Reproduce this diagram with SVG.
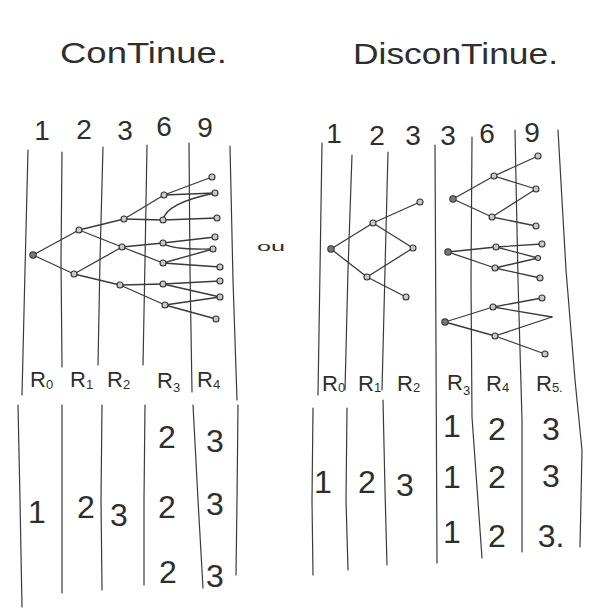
<svg xmlns="http://www.w3.org/2000/svg" width="589" height="615" viewBox="0 0 589 615">
<style>
.ln{fill:none;stroke:#3a3a3a;stroke-width:1.2;stroke-linecap:round;stroke-linejoin:round}
.e{fill:none;stroke:#3a3a3a;stroke-width:1.3;stroke-linecap:round}
.n{fill:#c8c8c8;stroke:#333;stroke-width:1.1}
.r{fill:#777;stroke:#333;stroke-width:1.1}
text{font-family:"Liberation Sans","DejaVu Sans",sans-serif;fill:#2e2e2e}
.t{font-size:30px}
.num{font-size:28px;text-anchor:middle}
.lab{font-size:22px}
.sub{font-size:13px}
.big{font-size:32px;text-anchor:middle}
</style>
<rect width="589" height="615" fill="#fff"/>
<!-- titles -->
<text class="t" x="60" y="63" textLength="167" lengthAdjust="spacingAndGlyphs">ConTinue.</text>
<text class="t" x="353" y="64" textLength="205" lengthAdjust="spacingAndGlyphs">DisconTinue.</text>
<!-- top numbers -->
<g>
<text class="num" x="42" y="140">1</text>
<text class="num" x="84" y="139">2</text>
<text class="num" x="125" y="140">3</text>
<text class="num" x="164" y="136">6</text>
<text class="num" x="205" y="137">9</text>
<text class="num" x="334" y="143">1</text>
<text class="num" x="377" y="145">2</text>
<text class="num" x="413" y="145">3</text>
<text class="num" x="448" y="145">3</text>
<text class="num" x="487" y="143">6</text>
<text class="num" x="532" y="142">9</text>
</g>
<!-- column lines -->
<g id="columns">
<polyline class="ln" points="28,150 25,270 22,395"/>
<polyline class="ln" points="62,152 61,260 62,367"/>
<polyline class="ln" points="103,147 100,260 98,365"/>
<polyline class="ln" points="147,145 145,260 143,365"/>
<polyline class="ln" points="189,143 190,270 192,392"/>
<polyline class="ln" points="230,146 233,280 237,400"/>
<polyline class="ln" points="18,405 20,500 22,607"/>
<polyline class="ln" points="62,405 62,593"/>
<polyline class="ln" points="102,405 101,500 102,590"/>
<polyline class="ln" points="145,405 144,500 144,585"/>
<polyline class="ln" points="193,405 198,500 203,588"/>
<polyline class="ln" points="238,405 237,500 236,575"/>
<polyline class="ln" points="322,143 320,270 318,395"/>
<polyline class="ln" points="352,155 348,270 345,390"/>
<polyline class="ln" points="388,152 385,270 382,390"/>
<polyline class="ln" points="435,145 436,350 437,563"/>
<polyline class="ln" points="472,137 471,280 472,417 482,558"/>
<polyline class="ln" points="515,130 518,280 522,420 522,552"/>
<polyline class="ln" points="558,130 566,270 575,380 582,450 580,547"/>
<polyline class="ln" points="313,408 312,500 313,575"/>
<polyline class="ln" points="347,408 346,500 348,570"/>
<polyline class="ln" points="383,400 385,490 387,565"/>
</g>
<text x="257" y="251" style="font-size:13px" textLength="28" lengthAdjust="spacingAndGlyphs">ou</text>
<!-- connectors -->
<g id="connectors">
<line class="e" x1="33" y1="255" x2="79" y2="230"/>
<line class="e" x1="33" y1="255" x2="74" y2="274"/>
<line class="e" x1="79" y1="230" x2="124" y2="219"/>
<line class="e" x1="79" y1="230" x2="122" y2="247"/>
<line class="e" x1="74" y1="274" x2="122" y2="247"/>
<line class="e" x1="74" y1="274" x2="120" y2="285"/>
<line class="e" x1="124" y1="219" x2="164" y2="195"/>
<line class="e" x1="124" y1="219" x2="163" y2="220"/>
<line class="e" x1="122" y1="247" x2="163" y2="243"/>
<line class="e" x1="122" y1="247" x2="163" y2="263"/>
<line class="e" x1="120" y1="285" x2="163" y2="284"/>
<line class="e" x1="120" y1="285" x2="165" y2="305"/>
<line class="e" x1="164" y1="195" x2="212" y2="177"/>
<line class="e" x1="164" y1="195" x2="215" y2="193"/>
<path class="e" d="M163,220 Q166,203 215,193"/>
<line class="e" x1="163" y1="220" x2="217" y2="218"/>
<line class="e" x1="163" y1="243" x2="215" y2="237"/>
<path class="e" d="M163,243 Q170,250 213,249"/>
<line class="e" x1="163" y1="263" x2="213" y2="249"/>
<line class="e" x1="163" y1="263" x2="220" y2="267"/>
<line class="e" x1="163" y1="284" x2="220" y2="281"/>
<line class="e" x1="163" y1="284" x2="220" y2="297"/>
<line class="e" x1="165" y1="305" x2="220" y2="297"/>
<line class="e" x1="165" y1="305" x2="216" y2="319"/>
<line class="e" x1="331" y1="249" x2="373" y2="223"/>
<line class="e" x1="331" y1="249" x2="367" y2="277"/>
<line class="e" x1="373" y1="223" x2="420" y2="202"/>
<line class="e" x1="373" y1="223" x2="413" y2="248"/>
<line class="e" x1="367" y1="277" x2="413" y2="248"/>
<line class="e" x1="367" y1="277" x2="406" y2="297"/>
<line class="e" x1="453" y1="199" x2="494" y2="176"/>
<line class="e" x1="453" y1="199" x2="492" y2="217"/>
<line class="e" x1="494" y1="176" x2="538" y2="156"/>
<line class="e" x1="494" y1="176" x2="536" y2="189"/>
<line class="e" x1="492" y1="217" x2="536" y2="189"/>
<line class="e" x1="492" y1="217" x2="536" y2="226"/>
<line class="e" x1="448" y1="252" x2="496" y2="247"/>
<line class="e" x1="448" y1="252" x2="495" y2="268"/>
<line class="e" x1="496" y1="247" x2="542" y2="244"/>
<line class="e" x1="496" y1="247" x2="538" y2="258"/>
<line class="e" x1="495" y1="268" x2="538" y2="258"/>
<line class="e" x1="495" y1="268" x2="540" y2="278"/>
<line class="e" x1="445" y1="322" x2="493" y2="307"/>
<line class="e" x1="445" y1="322" x2="495" y2="336"/>
<line class="e" x1="493" y1="307" x2="542" y2="298"/>
<line class="e" x1="493" y1="307" x2="552" y2="317"/>
<line class="e" x1="495" y1="336" x2="552" y2="317"/>
<line class="e" x1="495" y1="336" x2="545" y2="354"/>
</g>
<!-- nodes continue -->
<g id="tree-continue">
<g id="c0"><circle class="r" cx="33" cy="255" r="3.2"/></g>
<g id="c1a"><circle class="n" cx="79" cy="230" r="3"/></g>
<g id="c1b"><circle class="n" cx="74" cy="274" r="3"/></g>
<g id="c2a"><circle class="n" cx="124" cy="219" r="3"/></g>
<g id="c2b"><circle class="n" cx="122" cy="247" r="3"/></g>
<g id="c2c"><circle class="n" cx="120" cy="285" r="3"/></g>
<g id="c3a"><circle class="n" cx="164" cy="195" r="3"/></g>
<g id="c3b"><circle class="n" cx="163" cy="220" r="3"/></g>
<g id="c3c"><circle class="n" cx="163" cy="243" r="3"/></g>
<g id="c3d"><circle class="n" cx="163" cy="263" r="3"/></g>
<g id="c3e"><circle class="n" cx="163" cy="284" r="3"/></g>
<g id="c3f"><circle class="n" cx="165" cy="305" r="3"/></g>
<g id="c4a"><circle class="n" cx="212" cy="177" r="3"/></g>
<g id="c4b"><circle class="n" cx="215" cy="193" r="3"/></g>
<g id="c4c"><circle class="n" cx="217" cy="218" r="3"/></g>
<g id="c4d"><circle class="n" cx="215" cy="237" r="3"/></g>
<g id="c4e"><circle class="n" cx="213" cy="249" r="3"/></g>
<g id="c4f"><circle class="n" cx="220" cy="267" r="3"/></g>
<g id="c4g"><circle class="n" cx="220" cy="281" r="3"/></g>
<g id="c4h"><circle class="n" cx="220" cy="297" r="3"/></g>
<g id="c4i"><circle class="n" cx="216" cy="319" r="3"/></g>
</g>
<!-- nodes discontinue -->
<g id="tree-discontinue">
<g id="d0"><circle class="r" cx="331" cy="249" r="3.2"/></g>
<g id="d1a"><circle class="n" cx="373" cy="223" r="3"/></g>
<g id="d1b"><circle class="n" cx="367" cy="277" r="3"/></g>
<g id="d2a"><circle class="n" cx="420" cy="202" r="3"/></g>
<g id="d2b"><circle class="n" cx="413" cy="248" r="3"/></g>
<g id="d2c"><circle class="n" cx="406" cy="297" r="3"/></g>
<g id="s1r"><circle class="r" cx="453" cy="199" r="3.2"/></g>
<g id="s1a"><circle class="n" cx="494" cy="176" r="3"/></g>
<g id="s1b"><circle class="n" cx="492" cy="217" r="3"/></g>
<g id="s1g1"><circle class="n" cx="538" cy="156" r="3"/></g>
<g id="s1g2"><circle class="n" cx="536" cy="189" r="3"/></g>
<g id="s1g3"><circle class="n" cx="536" cy="226" r="3"/></g>
<g id="s2r"><circle class="r" cx="448" cy="252" r="3.2"/></g>
<g id="s2a"><circle class="n" cx="496" cy="247" r="3"/></g>
<g id="s2b"><circle class="n" cx="495" cy="268" r="3"/></g>
<g id="s2g1"><circle class="n" cx="542" cy="244" r="3"/></g>
<g id="s2g2"><circle class="n" cx="538" cy="258" r="2.5"/></g>
<g id="s2g3"><circle class="n" cx="540" cy="278" r="3"/></g>
<g id="s3r"><circle class="r" cx="445" cy="322" r="3.2"/></g>
<g id="s3a"><circle class="n" cx="493" cy="307" r="3"/></g>
<g id="s3b"><circle class="n" cx="495" cy="336" r="3"/></g>
<g id="s3g1"><circle class="n" cx="542" cy="298" r="3"/></g>
<g id="s3g3"><circle class="n" cx="545" cy="354" r="3"/></g>
</g>
<!-- R labels -->
<g class="lab">
<text x="30" y="387">R<tspan class="sub" dy="2">0</tspan></text>
<text x="70" y="387">R<tspan class="sub" dy="2">1</tspan></text>
<text x="107" y="387">R<tspan class="sub" dy="2">2</tspan></text>
<text x="157" y="388">R<tspan class="sub" dy="4">3</tspan></text>
<text x="197" y="387">R<tspan class="sub" dy="2">4</tspan></text>
<text x="322" y="391">R<tspan class="sub" dy="1">0</tspan></text>
<text x="358" y="391">R<tspan class="sub" dy="1">1</tspan></text>
<text x="397" y="391">R<tspan class="sub" dy="1">2</tspan></text>
<text x="447" y="390">R<tspan class="sub" dy="5">3</tspan></text>
<text x="486" y="391">R<tspan class="sub" dy="1">4</tspan></text>
<text x="536" y="391">R<tspan class="sub" dy="1">5.</tspan></text>
</g>
<!-- bottom numbers -->
<g>
<text class="big" x="37" y="523">1</text>
<text class="big" x="86" y="518">2</text>
<text class="big" x="119" y="526">3</text>
<text class="big" x="167" y="448">2</text>
<text class="big" x="167" y="518">2</text>
<text class="big" x="168" y="583">2</text>
<text class="big" x="215" y="452">3</text>
<text class="big" x="215" y="515">3</text>
<text class="big" x="215" y="587">3</text>
<text class="big" x="323" y="493">1</text>
<text class="big" x="367" y="493">2</text>
<text class="big" x="405" y="496">3</text>
<text class="big" x="452" y="437">1</text>
<text class="big" x="452" y="488">1</text>
<text class="big" x="452" y="543">1</text>
<text class="big" x="497" y="440">2</text>
<text class="big" x="497" y="488">2</text>
<text class="big" x="497" y="547">2</text>
<text class="big" x="551" y="440">3</text>
<text class="big" x="551" y="487">3</text>
<text class="big" x="551" y="547">3.</text>
</g>
</svg>
